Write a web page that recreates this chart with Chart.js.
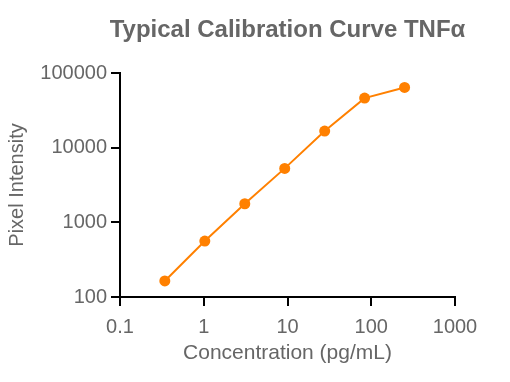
<!DOCTYPE html>
<html>
<head>
<meta charset="utf-8">
<script src="https://cdn.jsdelivr.net/npm/chart.js@4/dist/chart.umd.min.js"></script>
<style>
html,body{margin:0;padding:0;background:#fff;}
#wrap{width:510px;height:382px;}
</style>
</head>
<body>
<div id="wrap"><canvas id="c" width="510" height="382"></canvas></div>
<script>
const concentrations = [0.343, 1.03, 3.09, 9.26, 27.8, 83.3, 250];
const intensities = [164, 562, 1774, 5280, 16700, 46100, 64100];
const xTickValues = [0.1, 1, 10, 100, 1000];
const xTickLabels = ['0.1', '1', '10', '100', '1000'];
const yTickValues = [100, 1000, 10000, 100000];
const yTickLabels = ['100', '1000', '10000', '100000'];
const chartTitle = 'Typical Calibration Curve TNFα';
const xTitle = 'Concentration (pg/mL)';
const yTitle = 'Pixel Intensity';

const FONT = "'Liberation Sans', Arial, Helvetica, sans-serif";
const GRAY = '#666666';
const ORANGE = '#FF8000';

const points = concentrations.map((x, i) => ({x: x, y: intensities[i]}));

// Title centred over the plot area (as in the reference)
const plotTitle = {
  id: 'plotTitle',
  afterDraw(chart) {
    const {ctx, chartArea} = chart;
    ctx.save();
    ctx.font = "bold 24px " + FONT;
    ctx.fillStyle = GRAY;
    ctx.textAlign = 'center';
    ctx.textBaseline = 'alphabetic';
    ctx.fillText(chartTitle, (chartArea.left + chartArea.right) / 2, 37);
    ctx.restore();
  }
};

new Chart(document.getElementById('c'), {
  type: 'line',
  data: {
    datasets: [{
      data: points,
      borderColor: ORANGE,
      backgroundColor: ORANGE,
      borderWidth: 2,
      pointRadius: 5.5,
      pointHoverRadius: 5.5,
      pointBorderWidth: 0,
      tension: 0,
      fill: false
    }]
  },
  plugins: [plotTitle],
  options: {
    responsive: false,
    animation: false,
    devicePixelRatio: 1,
    layout: {padding: {left: 0, right: 55, top: 73, bottom: 0}},
    plugins: {
      legend: {display: false},
      tooltip: {enabled: false},
      title: {display: false}
    },
    scales: {
      x: {
        type: 'logarithmic',
        min: 0.1,
        max: 1000,
        afterBuildTicks: (s) => { s.ticks = xTickValues.map(v => ({value: v})); },
        afterFit: (s) => { s.height = 85; },
        ticks: {
          color: GRAY,
          font: {family: FONT, size: 20},
          padding: 9,
          maxRotation: 0,
          autoSkip: false,
          callback: (v, i) => xTickLabels[i]
        },
        grid: {drawOnChartArea: false, drawTicks: true, tickLength: 9, color: '#000', lineWidth: 2},
        border: {display: true, color: '#000', width: 2},
        title: {
          display: true,
          text: xTitle,
          color: GRAY,
          font: {family: FONT, size: 21, lineHeight: 1.2},
          padding: {top: 0, bottom: 16}
        }
      },
      y: {
        type: 'logarithmic',
        min: 100,
        max: 100000,
        afterBuildTicks: (s) => { s.ticks = yTickValues.map(v => ({value: v})); },
        afterFit: (s) => { s.width = 120; },
        ticks: {
          color: GRAY,
          font: {family: FONT, size: 20},
          padding: 4,
          autoSkip: false,
          callback: (v, i) => yTickLabels[i]
        },
        grid: {drawOnChartArea: false, drawTicks: true, tickLength: 9, color: '#000', lineWidth: 2},
        border: {display: true, color: '#000', width: 2},
        title: {
          display: true,
          text: yTitle,
          color: GRAY,
          font: {family: FONT, size: 20, lineHeight: 1.2},
          padding: {top: 5, bottom: 0}
        }
      }
    }
  }
});
</script>
</body>
</html>
